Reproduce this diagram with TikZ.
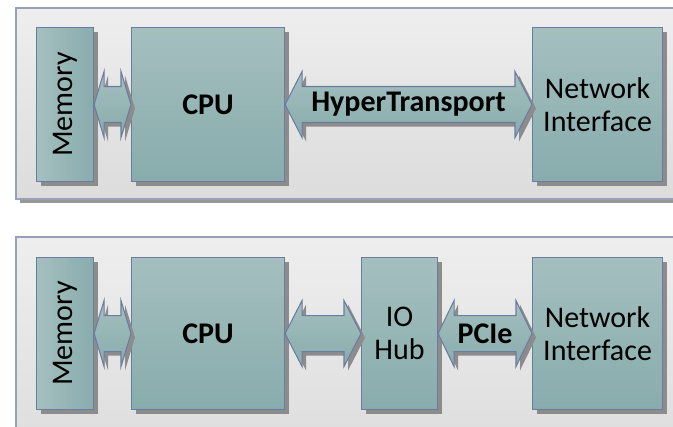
\documentclass[tikz,border=0pt]{standalone}
\usepackage{fontspec}
\setmainfont{Carlito}
\usetikzlibrary{calc,shadows}
\definecolor{panelborder}{RGB}{150,160,182}
\definecolor{paneltop}{RGB}{238,238,238}
\definecolor{panelbot}{RGB}{220,220,220}
\definecolor{boxborder}{RGB}{108,124,160}
\definecolor{boxlight}{RGB}{165,191,191}
\definecolor{boxdark}{RGB}{136,172,172}
\definecolor{shadowgray}{RGB}{140,140,140}
\def\pxu{0.75pt}
\tikzset{
  panel/.style={draw=panelborder, line width=0.9pt, top color=paneltop, bottom color=panelbot,
    drop shadow={shadow xshift=3pt, shadow yshift=-3pt, fill=shadowgray, opacity=0.9}},
  unit/.style={draw=boxborder, line width=0.8pt, top color=boxlight, bottom color=boxdark,
    anchor=north west, inner sep=0pt, align=center,
    font=\fontsize{22.5}{24.75}\selectfont,
    drop shadow={shadow xshift=3pt, shadow yshift=-3pt, fill=shadowgray, opacity=1}},
  vunit/.style={unit, left color=boxlight, right color=boxdark},
  fatarrow/.style={draw=boxborder, line width=0.8pt, top color=boxlight, bottom color=boxdark,
    line join=miter,
    drop shadow={shadow xshift=3pt, shadow yshift=-3pt, fill=shadowgray, opacity=1}},
  lbl/.style={font=\fontsize{22.5}{24.75}\selectfont\bfseries, inner sep=0pt},
}
% double-headed block arrow between the east side of #1 and the west side of #2,
% heads #3 px long, head half-height 33 px, shaft half-height 18 px
\newcommand\fatlink[3]{%
  \path[fatarrow] (#1.east) -- ($(#1.east)+(#3,-33)$) -- ($(#1.east)+(#3,-18)$)
    -- ($(#2.west)+(-#3,-18)$) -- ($(#2.west)+(-#3,-33)$) -- (#2.west)
    -- ($(#2.west)+(-#3,33)$) -- ($(#2.west)+(-#3,18)$)
    -- ($(#1.east)+(#3,18)$) -- ($(#1.east)+(#3,33)$) -- cycle;}
\begin{document}
\begin{tikzpicture}[x=0.75pt, y=-0.75pt]
\useasboundingbox (0,0) rectangle (673,427);
\clip (0,0) rectangle (673,427);
\fill[white] (0,0) rectangle (673,427);

% panels
\path[panel] (16,8) rectangle (720,199);
\path[panel] (16,237) rectangle (720,470);

% direct link: CPU to NIC over HyperTransport
\node[vunit, minimum width=57*\pxu, minimum height=154*\pxu] (mem1) at (36,27)
  {\rotatebox{90}{Memory}};
\node[unit, minimum width=153*\pxu, minimum height=154*\pxu, font=\fontsize{22.5}{24.75}\selectfont\bfseries] (cpu1) at (131,27) {CPU};
\node[unit, minimum width=130*\pxu, minimum height=154*\pxu] (nic1) at (532,27) {Network\\Interface};
\fatlink{mem1}{cpu1}{10}
\fatlink{cpu1}{nic1}{17}
\path (cpu1.east) -- node[lbl] {HyperTransport} (nic1.west);

% link through an IO hub and PCIe
\node[vunit, minimum width=57*\pxu, minimum height=152*\pxu] (mem2) at (36,257)
  {\rotatebox{90}{Memory}};
\node[unit, minimum width=153*\pxu, minimum height=152*\pxu, font=\fontsize{22.5}{24.75}\selectfont\bfseries] (cpu2) at (131,257) {CPU};
\node[unit, minimum width=76*\pxu, minimum height=152*\pxu] (hub2) at (361,257) {IO\\Hub};
\node[unit, minimum width=130*\pxu, minimum height=152*\pxu] (nic2) at (532,257) {Network\\Interface};
\fatlink{mem2}{cpu2}{10}
\fatlink{cpu2}{hub2}{17}
\fatlink{hub2}{nic2}{16}
\path (hub2.east) -- node[lbl] {PCIe} (nic2.west);
\end{tikzpicture}
\end{document}
